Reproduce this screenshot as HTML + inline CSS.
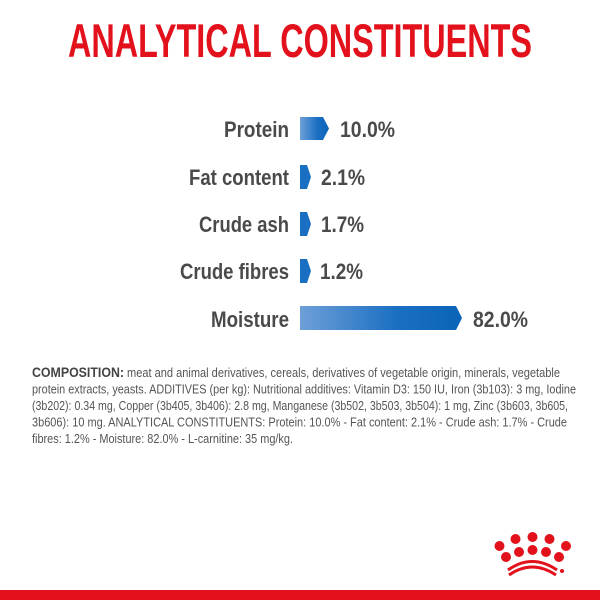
<!DOCTYPE html>
<html><head><style>html,body{margin:0;padding:0;background:#fff}svg{display:block}</style></head>
<body>
<svg width="600" height="600" viewBox="0 0 600 600" xmlns="http://www.w3.org/2000/svg">
<defs>
<linearGradient id="g" x1="0" x2="1" y1="0" y2="0">
<stop offset="0" stop-color="#6e9fd8"/><stop offset="0.6" stop-color="#1a6fc2"/><stop offset="1" stop-color="#0b64b8"/>
</linearGradient>
</defs>
<rect width="600" height="600" fill="#fff"/>
<text x="68" y="57" font-family="Liberation Sans, sans-serif" font-weight="bold" font-size="47" fill="#e2111b" textLength="464" lengthAdjust="spacingAndGlyphs">ANALYTICAL CONSTITUENTS</text>
<g font-family="Liberation Sans, sans-serif" font-weight="bold" font-size="22" fill="#4a4a4a">
<text x="224" y="137" textLength="65" lengthAdjust="spacingAndGlyphs">Protein</text>
<text x="189" y="185" textLength="100" lengthAdjust="spacingAndGlyphs">Fat content</text>
<text x="199" y="232" textLength="90" lengthAdjust="spacingAndGlyphs">Crude ash</text>
<text x="180" y="279" textLength="109" lengthAdjust="spacingAndGlyphs">Crude fibres</text>
<text x="211" y="327" textLength="78" lengthAdjust="spacingAndGlyphs">Moisture</text>
<text x="340" y="137" textLength="55" lengthAdjust="spacingAndGlyphs">10.0%</text>
<text x="321" y="185" textLength="44" lengthAdjust="spacingAndGlyphs">2.1%</text>
<text x="321" y="232" textLength="43" lengthAdjust="spacingAndGlyphs">1.7%</text>
<text x="320" y="279" textLength="43" lengthAdjust="spacingAndGlyphs">1.2%</text>
<text x="473" y="327" textLength="55" lengthAdjust="spacingAndGlyphs">82.0%</text>
</g>
<polygon points="300,117 323,117 329,128.5 323,140 300,140" fill="url(#g)"/>
<polygon points="300,165 307,165 311,177 307,189 300,189" fill="#1a6fc2"/>
<polygon points="300,212 307,212 311,224 307,236 300,236" fill="#1a6fc2"/>
<polygon points="300,259 307,259 311,271 307,283 300,283" fill="#1a6fc2"/>
<polygon points="300,306 456,306 462,318 456,330 300,330" fill="url(#g)"/>
<g font-family="Liberation Sans, sans-serif" font-size="12.5" fill="#555">
<text x="32" y="377" textLength="528" lengthAdjust="spacingAndGlyphs"><tspan font-weight="bold" font-size="14" fill="#444">COMPOSITION:</tspan> meat and animal derivatives, cereals, derivatives of vegetable origin, minerals, vegetable</text>
<text x="32" y="393.5" textLength="544" lengthAdjust="spacingAndGlyphs">protein extracts, yeasts. ADDITIVES (per kg): Nutritional additives: Vitamin D3: 150 IU, Iron (3b103): 3 mg, Iodine</text>
<text x="32" y="410" textLength="536" lengthAdjust="spacingAndGlyphs">(3b202): 0.34 mg, Copper (3b405, 3b406): 2.8 mg, Manganese (3b502, 3b503, 3b504): 1 mg, Zinc (3b603, 3b605,</text>
<text x="32" y="426.5" textLength="535" lengthAdjust="spacingAndGlyphs">3b606): 10 mg. ANALYTICAL CONSTITUENTS: Protein: 10.0% - Fat content: 2.1% - Crude ash: 1.7% - Crude</text>
<text x="32" y="443" textLength="261" lengthAdjust="spacingAndGlyphs">fibres: 1.2% - Moisture: 82.0% - L-carnitine: 35 mg/kg.</text>
</g>
<g fill="#e2111b">
<circle cx="499.5" cy="546" r="5"/><circle cx="515.5" cy="539" r="5"/><circle cx="532.5" cy="537" r="5"/><circle cx="549.5" cy="539" r="5"/><circle cx="566" cy="546" r="5"/>
<circle cx="506" cy="557" r="5"/><circle cx="519" cy="552" r="5"/><circle cx="532.5" cy="550" r="5"/><circle cx="546" cy="552" r="5"/><circle cx="559" cy="557" r="5"/>
<path d="M508,570 Q532,553 557,570" stroke="#e2111b" stroke-width="3" fill="none"/>
<path d="M509,575 Q532,559 556,575" stroke="#e2111b" stroke-width="3" fill="none"/>
<circle cx="562" cy="571" r="2"/>
<rect x="0" y="590" width="600" height="10"/>
</g>
</svg>
</body></html>
